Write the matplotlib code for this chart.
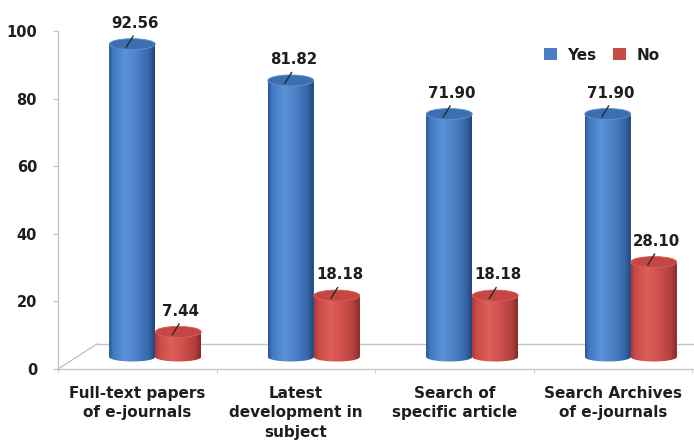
import numpy as np
import matplotlib
matplotlib.use("Agg")
import matplotlib.pyplot as plt
from matplotlib.patches import Ellipse, PathPatch, Patch
from matplotlib.path import Path
from matplotlib.colors import to_rgb
from matplotlib.transforms import offset_copy

# ---- data ----
categories = ["Full-text papers\nof e-journals",
              "Latest\ndevelopment in\nsubject",
              "Search of\nspecific article",
              "Search Archives\nof e-journals"]
series_names = ["Yes", "No"]
yes_values = [92.56, 81.82, 71.90, 71.90]
no_values = [7.44, 18.18, 18.18, 28.10]
value_labels_yes = ["92.56", "81.82", "71.90", "71.90"]
value_labels_no = ["7.44", "18.18", "18.18", "28.10"]
y_ticks = [0, 20, 40, 60, 80, 100]

# ---- style ----
TXT = "#1e1e1e"
GRID = "#c4c4c4"
FONT = "DejaVu Sans"
blue_stops = ["#2c5994", "#4077bf", "#5b92d7", "#4c82c8", "#3566a7", "#24467a"]
red_stops = ["#a53937", "#c74a46", "#dc5f5a", "#d0514d", "#b13f3d", "#872b29"]
stop_pos = [0.0, 0.08, 0.35, 0.6, 0.88, 1.0]
cap_colors = ["#3c6fb0", "#c44743"]
legend_colors = ["#4a7fc8", "#c84a47"]

fig = plt.figure(figsize=(6.94, 4.45), dpi=100)
W, H = 694, 445
ax = fig.add_axes([58 / W, (H - 369) / H, 636 / W, 338 / H])

px_per_x = 158.5        # pixels per category unit
px_per_y = 3.38         # pixels per value unit
xmin = -0.5
xmax = xmin + 636 / px_per_x

depth_dx = 18 / px_per_x
depth_dy = 12 / px_per_y
floor_dx = 39 / px_per_x
floor_dy = 25 / px_per_y
bar_w = 46 / px_per_x
cap_h = 11 / px_per_y
bot_h = 9 / px_per_y

x = np.arange(len(categories))


def gradient_img(stops):
    t = np.linspace(0, 1, 64)
    cols = np.array([to_rgb(c) for c in stops])
    img = np.stack([np.interp(t, stop_pos, cols[:, k]) for k in range(3)], axis=-1)
    return img[np.newaxis, :, :]


def draw_cylinders(bars, stops, cap_color, labels):
    img = gradient_img(stops)
    for b, lab in zip(bars, labels):
        x0 = b.get_x()
        w = b.get_width()
        x1 = x0 + w
        xc = x0 + w / 2
        base = b.get_y()
        top = base + b.get_height()
        th = np.linspace(np.pi, 2 * np.pi, 40)
        verts = [(x0, top)]
        verts += list(zip(xc + w / 2 * np.cos(th), base + bot_h / 2 * np.sin(th)))
        verts += [(x1, top), (x0, top)]
        codes = [Path.MOVETO] + [Path.LINETO] * (len(verts) - 2) + [Path.CLOSEPOLY]
        clip = PathPatch(Path(verts, codes), facecolor="none", edgecolor="none",
                         transform=ax.transData)
        ax.add_patch(clip)
        im = ax.imshow(img, extent=(x0, x1, base - bot_h, top), aspect="auto",
                       interpolation="bilinear", zorder=3)
        im.set_clip_path(clip)
        cap = Ellipse((xc, top), w, cap_h, facecolor=cap_color,
                      edgecolor=stops[2], lw=0.6, zorder=4)
        ax.add_patch(cap)
        # value label with leader line
        ax.annotate(lab, xy=(xc, top), xytext=(2, 15), textcoords="offset points",
                    ha="center", va="center", fontsize=10.8, fontweight="bold",
                    color=TXT, family=FONT, zorder=6)
        ax.annotate("", xy=(xc, top),
                    xycoords=offset_copy(ax.transData, fig=fig, x=-6, y=-3, units="dots"),
                    xytext=(5, 8), textcoords="offset points",
                    arrowprops=dict(arrowstyle="-", color="#2a2a2a", lw=1.0,
                                    shrinkA=0, shrinkB=0), zorder=6)


yes_bars = ax.bar(x + depth_dx - bar_w / 2, yes_values, bar_w, bottom=depth_dy,
                  color=legend_colors[0], edgecolor="none", zorder=2, label=series_names[0])
no_bars = ax.bar(x + depth_dx + bar_w / 2, no_values, bar_w, bottom=depth_dy,
                 color=legend_colors[1], edgecolor="none", zorder=2, label=series_names[1])
draw_cylinders(yes_bars, blue_stops, cap_colors[0], value_labels_yes)
draw_cylinders(no_bars, red_stops, cap_colors[1], value_labels_no)

# floor
ax.plot([xmin, xmin + floor_dx], [0, floor_dy], color=GRID, lw=1, zorder=1, clip_on=False)
ax.plot([xmin + floor_dx, xmax], [floor_dy, floor_dy], color=GRID, lw=1, zorder=1, clip_on=False)

ax.set_xlim(xmin, xmax)
ax.set_ylim(0, 100)

for s in ["top", "right"]:
    ax.spines[s].set_visible(False)
for s in ["left", "bottom"]:
    ax.spines[s].set_color(GRID)
    ax.spines[s].set_linewidth(1)

ax.set_yticks(y_ticks)
ax.set_yticklabels([str(v) for v in y_ticks], fontsize=10.5, fontweight="bold",
                   color=TXT, family=FONT)
ax.tick_params(axis="y", length=3.6, color=GRID, pad=11.5)

ax.set_xticks(x)
ax.set_xticklabels(categories, fontsize=11, fontweight="bold", color=TXT,
                   family=FONT, linespacing=1.4)
ax.set_xticks(np.arange(len(categories) + 1) - 0.5, minor=True)
ax.tick_params(axis="x", which="major", length=0, pad=12)
ax.tick_params(axis="x", which="minor", length=3, color=GRID)

handles = [Patch(facecolor=legend_colors[0]), Patch(facecolor=legend_colors[1])]
fig.legend(handles, series_names, loc="center right",
           bbox_to_anchor=(660 / W, 1 - 55 / H), ncol=2, frameon=False,
           prop=dict(family=FONT, weight="bold", size=11), labelcolor=TXT,
           handlelength=0.85, handleheight=0.85, handletextpad=0.7,
           columnspacing=1.1, borderpad=0, borderaxespad=0)

fig.savefig("out.png", dpi=100)
